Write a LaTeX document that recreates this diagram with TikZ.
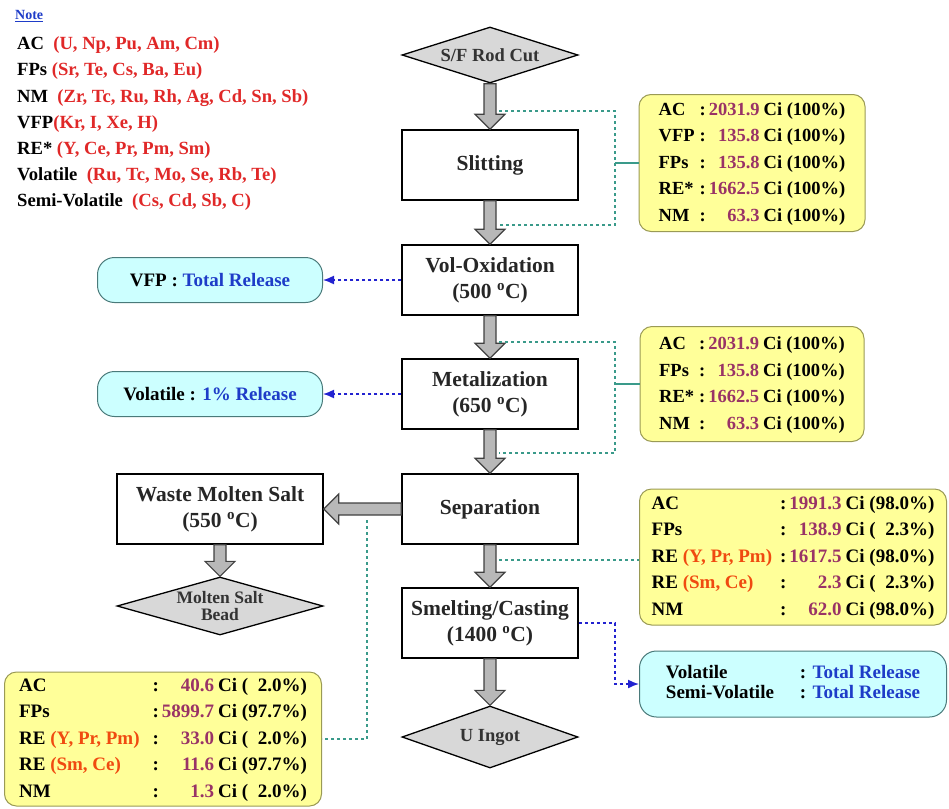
\documentclass[tikz,border=0pt]{standalone}
\usepackage{fontspec}
\setmainfont{Liberation Serif}
\usetikzlibrary{shapes.geometric,calc,arrows.meta}
\definecolor{redtxt}{HTML}{E02828}
\definecolor{numc}{HTML}{993366}
\definecolor{orangec}{HTML}{F04A10}
\definecolor{bluetxt}{HTML}{1E3CC8}
\definecolor{yfill}{HTML}{FFFF99}
\definecolor{yborder}{HTML}{9A9A55}
\definecolor{cfill}{HTML}{CCFFFF}
\definecolor{cborder}{HTML}{4A7A7A}
\definecolor{tealc}{HTML}{3A9A8A}
\definecolor{bluec}{HTML}{2222D0}
\definecolor{dgray}{HTML}{D8D8D8}
\definecolor{arrfill}{HTML}{B8B8B8}
\definecolor{arrborder}{HTML}{404040}
\newcommand\nm[1]{\textcolor{numc}{#1}}
\newcommand\rd[1]{\textcolor{redtxt}{#1}}
\newcommand\orc[1]{\textcolor{orangec}{#1}}
\newcommand\bl[1]{\textcolor{bluetxt}{#1}}
\newcommand\degc{\textsuperscript{o}C}
\newcommand\vflow[2]{\draw[bigarrow] let \p1=(#1.south), \p2=(#2.north) in
  (\x2-6pt,\y1) -- (\x2-6pt,\y2+15pt) -- (\x2-15pt,\y2+15pt) -- (\x2,\y2) --
  (\x2+15pt,\y2+15pt) -- (\x2+6pt,\y2+15pt) -- (\x2+6pt,\y1) -- cycle;}
\newcommand\hflow[2]{\draw[bigarrow] let \p1=(#1.west), \p2=(#2.east) in
  (\x1,\y1+6pt) -- (\x2+15pt,\y1+6pt) -- (\x2+15pt,\y1+15pt) -- (\x2,\y1) --
  (\x2+15pt,\y1-15pt) -- (\x2+15pt,\y1-6pt) -- (\x1,\y1-6pt) -- cycle;}
\begin{document}
\begin{tikzpicture}[x=1pt,y=-1pt,
  procbox/.style={draw, line width=1.5pt, minimum width=176pt, minimum height=70pt,
    inner sep=0pt, align=center, font=\fontsize{21.5}{26}\selectfont\bfseries, text=black!85},
  endpt/.style={diamond, draw, line width=1.3pt, fill=dgray, aspect=3.4, inner sep=0pt,
    align=center, font=\fontsize{18.5}{18}\selectfont\bfseries, text=black!80},
  ybox/.style={draw=yborder, line width=1pt, fill=yfill, rounded corners=12pt, inner sep=0pt,
    font=\fontsize{18.5}{26.5}\selectfont\bfseries},
  cbox/.style={draw=cborder, line width=1pt, fill=cfill, rounded corners=17pt, inner sep=0pt,
    font=\fontsize{19}{24}\selectfont\bfseries},
  bigarrow/.style={draw=arrborder, fill=arrfill, line width=1.2pt},
  tealdash/.style={draw=tealc, line width=1.5pt, dash pattern=on 3pt off 3pt},
  tealsolid/.style={draw=tealc, line width=1.5pt},
  bluedash/.style={draw=bluec, line width=1.5pt, dash pattern=on 3pt off 3pt, -{Latex[length=11pt,width=9pt]}}
]
\useasboundingbox (0,0) rectangle (949,808);

% legend
\node[anchor=west, inner sep=0pt, font=\fontsize{14}{16}\selectfont\bfseries, text=bluetxt] (note) at (15,16) {\underline{Note}};
\node[anchor=north west, inner sep=0pt, align=left, font=\fontsize{18.6}{26.2}\selectfont\bfseries] (legend) at (17,36.5)
 {AC\ \ \rd{(U, Np, Pu, Am, Cm)}\\
  FPs\ \rd{(Sr, Te, Cs, Ba, Eu)}\\
  NM\ \ \rd{(Zr, Tc, Ru, Rh, Ag, Cd, Sn, Sb)}\\
  VFP\rd{(Kr, I, Xe, H)}\\
  RE*\ \rd{(Y, Ce, Pr, Pm, Sm)}\\
  Volatile\ \ \rd{(Ru, Tc, Mo, Se, Rb, Te)}\\
  Semi-Volatile\ \ \rd{(Cs, Cd, Sb, C)}};

% main column
\node[endpt, minimum width=176pt, minimum height=56pt] (sf) at (490,55) {S/F Rod Cut};
\node[procbox] (slit) at (490,165) {Slitting};
\node[procbox] (volox) at (490,280) {Vol-Oxidation\\(500 \degc)};
\node[procbox] (metal) at (490,394) {Metalization\\(650 \degc)};
\node[procbox] (sep) at (490,509) {Separation};
\node[procbox] (smelt) at (490,623) {Smelting/Casting\\(1400 \degc)};
\node[endpt, minimum width=176pt, minimum height=62pt] (uingot) at (490,737) {U Ingot};
\node[procbox, minimum width=206pt] (waste) at (220,509) {Waste Molten Salt\\(550 \degc)};
\node[endpt, minimum width=206pt, minimum height=58pt, font=\fontsize{17.5}{17}\selectfont\bfseries] (bead) at (220,606) {Molten Salt\\Bead};

\vflow{sf}{slit}
\vflow{slit}{volox}
\vflow{volox}{metal}
\vflow{metal}{sep}
\vflow{sep}{smelt}
\vflow{smelt}{uingot}
\vflow{waste}{bead}
\hflow{sep}{waste}

% yellow boxes
\node[ybox, minimum width=226pt, minimum height=137pt] (y1) at (752,163) {%
\begin{tabular}{@{}l@{\hspace{5pt}}l@{\hspace{3pt}}r@{\hspace{4pt}}l@{}}
AC & : & \nm{2031.9} & Ci (100\%)\\
VFP & : & \nm{135.8} & Ci (100\%)\\
FPs & : & \nm{135.8} & Ci (100\%)\\
RE* & : & \nm{1662.5} & Ci (100\%)\\
NM & : & \nm{63.3} & Ci (100\%)
\end{tabular}};
\node[ybox, minimum width=224pt, minimum height=115pt] (y2) at (752,384) {%
\begin{tabular}{@{}l@{\hspace{5pt}}l@{\hspace{3pt}}r@{\hspace{4pt}}l@{}}
AC & : & \nm{2031.9} & Ci (100\%)\\
FPs & : & \nm{135.8} & Ci (100\%)\\
RE* & : & \nm{1662.5} & Ci (100\%)\\
NM & : & \nm{63.3} & Ci (100\%)
\end{tabular}};
\node[ybox, minimum width=307pt, minimum height=136pt, font=\fontsize{19}{26.5}\selectfont\bfseries] (y3) at (793,557) {%
\begin{tabular}{@{}l@{\hspace{8pt}}l@{\hspace{3pt}}r@{\hspace{4pt}}l@{}r@{}l@{}}
AC & : & \nm{1991.3} & Ci ( & 98.0\% & )\\
FPs & : & \nm{138.9} & Ci ( & 2.3\% & )\\
RE \orc{(Y, Pr, Pm)} & : & \nm{1617.5} & Ci ( & 98.0\% & )\\
RE \orc{(Sm, Ce)} & : & \nm{2.3} & Ci ( & 2.3\% & )\\
NM & : & \nm{62.0} & Ci ( & 98.0\% & )
\end{tabular}};
\node[ybox, minimum width=317pt, minimum height=134pt, font=\fontsize{19}{26.5}\selectfont\bfseries] (y4) at (163,739) {%
\begin{tabular}{@{}l@{\hspace{13pt}}l@{\hspace{3pt}}r@{\hspace{4pt}}l@{}r@{}l@{}}
AC & : & \nm{40.6} & Ci ( & 2.0\% & )\\
FPs & : & \nm{5899.7} & Ci ( & 97.7\% & )\\
RE \orc{(Y, Pr, Pm)} & : & \nm{33.0} & Ci ( & 2.0\% & )\\
RE \orc{(Sm, Ce)} & : & \nm{11.6} & Ci ( & 97.7\% & )\\
NM & : & \nm{1.3} & Ci ( & 2.0\% & )
\end{tabular}};

% cyan boxes
\node[cbox, minimum width=225pt, minimum height=45pt] (c1) at (210,280) {VFP : \bl{Total Release}};
\node[cbox, minimum width=225pt, minimum height=45pt] (c2) at (210,394) {Volatile : \bl{1\% Release}};
\node[cbox, minimum width=307pt, minimum height=66pt] (c3) at (793,684) {%
\begin{tabular}{@{}l@{\hspace{26pt}}l@{}}
Volatile & : \bl{Total Release}\\[-4pt]
Semi-Volatile & : \bl{Total Release}
\end{tabular}};

% teal connectors
\coordinate (t1a) at (499,111);
\coordinate (t1b) at (499,225);
\coordinate (v1) at (615,163);
\coordinate (t2a) at (499,342);
\coordinate (t2b) at (499,453);
\coordinate (v2) at (615,384);
\coordinate (t3) at (499,560);
\coordinate (t4) at (367,520);
\draw[tealdash] (t1a) -| (v1) |- (t1b);
\draw[tealsolid] (v1) -- (y1.west);
\draw[tealdash] (t2a) -| (v2) |- (t2b);
\draw[tealsolid] (v2) -- (y2.west);
\draw[tealdash] (t3) -- (t3 -| y3.west);
\draw[tealdash] (t4) |- (y4.east);

% blue connectors
\coordinate (v3) at (615,650);
\draw[bluedash] (volox.west) -- (c1.east);
\draw[bluedash] (metal.west) -- (c2.east);
\draw[bluedash] (smelt.east) -| (v3) |- (c3.west);
\end{tikzpicture}
\end{document}
